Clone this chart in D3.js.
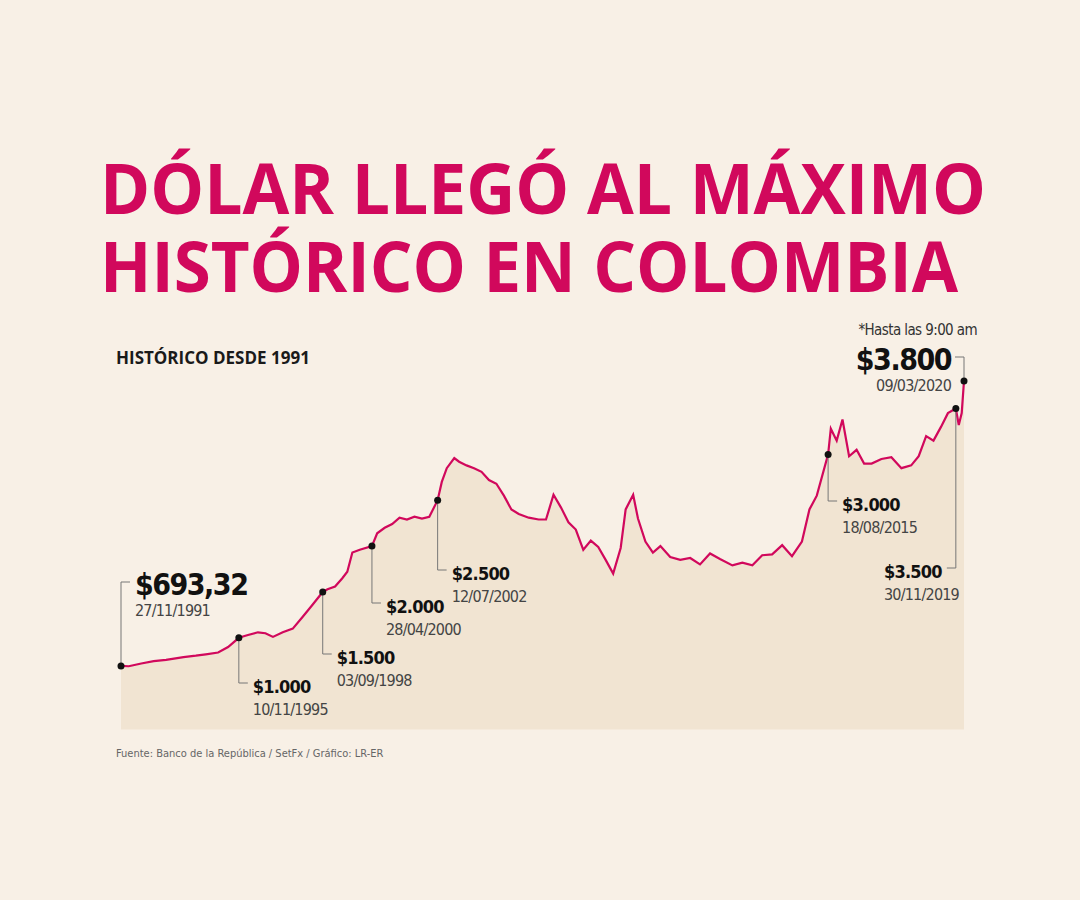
<!DOCTYPE html>
<html>
<head>
<meta charset="utf-8">
<script src="https://cdn.jsdelivr.net/npm/d3@7"></script>
<style>
  body { margin: 0; background: #f8f0e6; }
  svg { display: block; }
  .cond { font-family: "DejaVu Sans Condensed", "DejaVu Sans", sans-serif; font-stretch: condensed; }
</style>
</head>
<body>
<svg id="chart" width="1080" height="900"></svg>
<script>
// dollar price in COP (date, value)
var dates = ["1991-11-27","1992-03-01","1992-08-01","1993-01-01","1993-06-01","1994-01-01","1994-06-01","1994-10-01","1995-03-01","1995-07-01","1995-11-10",
  "1996-03-01","1996-07-01","1996-10-01","1997-01-01","1997-05-01","1997-09-01","1998-01-01","1998-05-01","1998-09-03","1998-11-01","1999-02-01","1999-05-01",
  "1999-07-01","1999-09-01","1999-12-01","2000-04-28","2000-07-01","2000-10-01","2001-01-01","2001-04-01","2001-07-01","2001-10-01","2002-01-01","2002-04-01",
  "2002-07-12","2002-09-01","2002-11-01","2003-02-01","2003-04-01","2003-07-01","2003-10-01","2004-01-01","2004-04-01","2004-07-01","2004-10-01","2005-01-01",
  "2005-04-01","2005-08-01","2005-12-01","2006-03-01","2006-06-01","2006-09-01","2006-12-01","2007-03-01","2007-06-01","2007-09-01","2007-12-01","2008-03-01",
  "2008-06-01","2008-09-01","2008-11-01","2009-02-01","2009-04-01","2009-07-01","2009-10-01","2010-01-01","2010-05-01","2010-09-01","2011-01-01","2011-05-01",
  "2011-09-01","2012-01-01","2012-06-01","2012-10-01","2013-02-01","2013-06-01","2013-10-01","2014-02-01","2014-06-01","2014-10-01","2015-01-01","2015-04-01",
  "2015-08-18","2015-09-20","2015-12-01","2016-02-10","2016-05-01","2016-08-01","2016-11-01","2017-02-01","2017-06-01","2017-10-01","2018-02-01","2018-06-01",
  "2018-09-01","2018-12-01","2019-03-01","2019-06-01","2019-08-25","2019-11-30","2020-01-05","2020-02-10","2020-03-09"];
var values = [693,690,720,745,760,790,805,820,840,900,1000,
  1030,1060,1050,1010,1060,1100,1230,1360,1500,1530,1560,1650,
  1720,1930,1960,2000,2140,2200,2240,2310,2290,2320,2300,2320,
  2500,2700,2850,2960,2920,2880,2850,2810,2720,2680,2550,2400,
  2350,2310,2290,2290,2560,2420,2260,2180,1960,2060,1990,1850,
  1700,1980,2400,2560,2300,2050,1930,2000,1880,1850,1870,1800,
  1920,1860,1790,1820,1790,1900,1910,2010,1890,2050,2400,2550,
  3000,3280,3150,3380,2980,3050,2900,2900,2950,2970,2850,2880,
  2980,3200,3150,3300,3450,3500,3320,3450,3800];

var annDates = ["1991-11-27","1995-11-10","1998-09-03","2000-04-28","2002-07-12","2015-08-18","2019-11-30","2020-03-09"];
var annValues = ["$693,32","$1.000","$1.500","$2.000","$2.500","$3.000","$3.500","$3.800"];
var annLabels = ["27/11/1991","10/11/1995","03/09/1998","28/04/2000","12/07/2002","18/08/2015","30/11/2019","09/03/2020"];

var parse = d3.timeParse("%Y-%m-%d");
var data = dates.map(function(d, i) { return { date: parse(d), value: values[i] }; });
var svg = d3.select("#chart");
var magenta = "#d1085c";

var x = d3.scaleTime().domain([parse("1991-11-27"), parse("2020-03-09")]).range([121, 964]);
var y = d3.scaleLinear().domain([0, 4000]).range([729.5, 362.7]);

// title
svg.append("text").attr("x", 100).attr("y", 214).attr("fill", magenta)
  .attr("font-family", "Open Sans").attr("font-weight", 700).attr("font-size", 70)
  .attr("textLength", 886).attr("lengthAdjust", "spacingAndGlyphs")
  .text("DÓLAR LLEGÓ AL MÁXIMO");
svg.append("text").attr("x", 100).attr("y", 292).attr("fill", magenta)
  .attr("font-family", "Open Sans").attr("font-weight", 700).attr("font-size", 70)
  .attr("textLength", 858).attr("lengthAdjust", "spacingAndGlyphs")
  .text("HISTÓRICO EN COLOMBIA");
svg.append("text").attr("x", 116).attr("y", 364).attr("fill", "#1a1a1a")
  .attr("font-family", "Open Sans").attr("font-weight", 700).attr("font-size", 17)
  .text("HISTÓRICO DESDE 1991");

// area + line
var area = d3.area().x(function(d) { return x(d.date); }).y0(y(0)).y1(function(d) { return y(d.value); });
svg.append("path").datum(data).attr("d", area).attr("fill", "#f1e4d2");
svg.append("path").datum(data)
  .attr("d", d3.line().x(function(d) { return x(d.date); }).y(function(d) { return y(d.value); }))
  .attr("fill", "none").attr("stroke", magenta).attr("stroke-width", 2.2);

// annotations: leader end y, text side
var leadY = [582, 683, 654, 603, 570, 501, 568, 357];
var g = svg.append("g");
annDates.forEach(function(d, i) {
  var px = x(parse(d));
  var v = +annValues[i].replace("$", "").replace(".", "").replace(",", ".");
  var py = y(i === 0 ? 693 : v);
  var ly = leadY[i];
  var big = (i === 0 || i === 7);
  var left = (i >= 6);
  var hx = left ? px - 9 : px + 9;
  g.append("path").attr("d", "M" + px + "," + py + "V" + ly + "H" + hx)
    .attr("fill", "none").attr("stroke", "#777").attr("stroke-width", 1);
  g.append("circle").attr("cx", px).attr("cy", py).attr("r", 3.5).attr("fill", "#111");
  var tx = left ? hx - 4 : hx + 5;
  var anchor = left ? "end" : "start";
  var vy = big ? ly + 13 : ly + 10;
  if (i === 6) { tx = 884; anchor = "start"; }
  g.append("text").attr("class", "cond").attr("x", tx).attr("y", vy).attr("text-anchor", anchor)
    .attr("font-size", big ? 30 : 18).attr("font-weight", 700).attr("fill", "#111")
    .attr("letter-spacing", big ? -1.5 : -0.8)
    .text(annValues[i]);
  g.append("text").attr("class", "cond").attr("x", tx).attr("y", vy + (big ? 21 : 22)).attr("text-anchor", anchor)
    .attr("font-size", 16).attr("fill", "#444").attr("letter-spacing", -0.8)
    .text(annLabels[i]);
});
svg.append("text").attr("class", "cond").attr("x", 977).attr("y", 335).attr("text-anchor", "end")
  .attr("font-size", 15).attr("fill", "#333").attr("letter-spacing", -0.6).text("*Hasta las 9:00 am");

svg.append("text").attr("class", "cond").attr("x", 116).attr("y", 757)
  .attr("font-size", 11).attr("fill", "#666").text("Fuente: Banco de la República / SetFx / Gráfico: LR-ER");
</script>
</body>
</html>
